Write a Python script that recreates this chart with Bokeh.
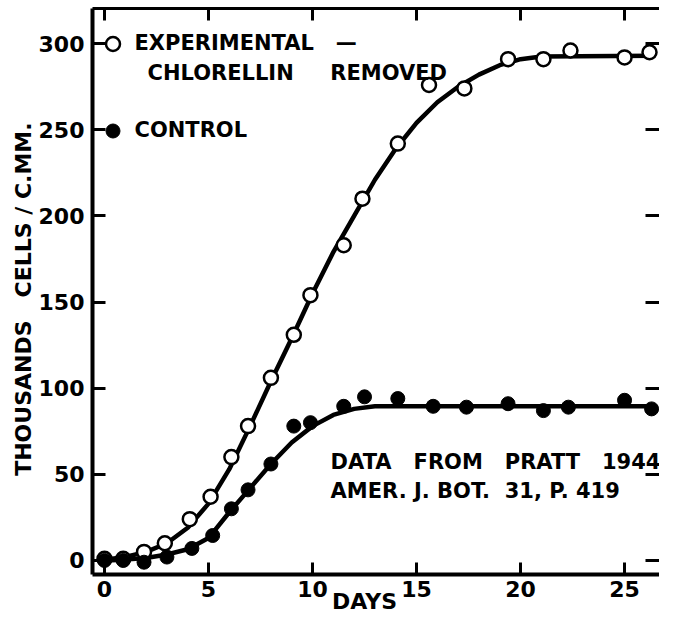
from bokeh.plotting import figure
from bokeh.models import LinearAxis, Label, Legend, LegendItem, FixedTicker, Range1d
from bokeh.embed import file_html
from bokeh.resources import INLINE

# ---- data ----
exp_days = [0, 0.9, 1.9, 2.9, 4.1, 5.1, 6.1, 6.9, 8.0, 9.1, 9.9, 11.5, 12.4, 14.1, 15.6, 17.3, 19.4, 21.1, 22.4, 25.0, 26.2]
exp_cells = [1, 1, 5, 10, 24, 37, 60, 78, 106, 131, 154, 183, 210, 242, 276, 274, 291, 291, 296, 292, 295]

ctl_days = [0, 0.9, 1.9, 3.0, 4.2, 5.2, 6.1, 6.9, 8.0, 9.1, 9.9, 11.5, 12.5, 14.1, 15.8, 17.4, 19.4, 21.1, 22.3, 25.0, 26.3]
ctl_cells = [0, 0, -1, 2, 7, 14.5, 30, 41, 56, 78, 80, 89.5, 95, 94, 89.5, 89, 91, 87, 89, 93, 88]

# fitted curves as drawn in the figure
exp_curve_days = [0, 1, 2, 3, 4, 5, 6, 7, 8, 9, 10, 11, 12, 13, 14, 15, 16, 17, 18, 19, 20, 21, 26.4]
exp_curve_cells = [0.5, 2, 5, 10, 19, 33, 53, 78, 104, 129, 155, 179, 200, 221, 239, 254, 266, 275, 282, 287.5, 291, 292.5, 293]

ctl_curve_days = [0, 1, 2, 3, 4, 5, 6, 7, 8, 9, 10, 11, 12, 13, 26.4]
ctl_curve_cells = [0, 0.5, 1.5, 3.5, 6.5, 13, 28, 42, 56, 68.5, 78, 84.5, 88, 89.5, 89.5]

x_ticks = [0, 5, 10, 15, 20, 25]
y_ticks = [0, 50, 100, 150, 200, 250, 300]

NB = "\u00a0"
FONT = "DejaVu Sans"
TXT = "21px"

p = figure(width=659, height=617, output_backend="svg", toolbar_location=None,
           x_range=Range1d(-0.577, 26.68), y_range=Range1d(-8.13, 320.4),
           min_border_left=92, min_border_right=0, min_border_top=8, min_border_bottom=43,
           background_fill_color="white", border_fill_color="white")
p.outline_line_color = None
p.xgrid.visible = False
p.ygrid.visible = False

# bottom axis
xa = p.xaxis[0]
xa.ticker = FixedTicker(ticks=x_ticks)
xa.major_tick_in = 12
xa.major_tick_out = 0
xa.minor_tick_line_color = None
xa.major_tick_line_width = 3
xa.axis_line_width = 4
xa.major_label_text_font = FONT
xa.major_label_text_font_style = "bold"
xa.major_label_text_font_size = "22px"
xa.major_label_text_color = "black"
xa.major_label_standoff = 6
xa.axis_label = "DAYS" + NB * 3
xa.axis_label_text_font = FONT
xa.axis_label_text_font_style = "bold"
xa.axis_label_text_font_size = "22px"
xa.axis_label_text_color = "black"
xa.axis_label_standoff = -11

# left axis
ya = p.yaxis[0]
ya.ticker = FixedTicker(ticks=y_ticks)
ya.major_tick_in = 13
ya.major_tick_out = 0
ya.minor_tick_line_color = None
ya.major_tick_line_width = 3
ya.axis_line_width = 4
ya.major_label_text_font = FONT
ya.major_label_text_font_style = "bold"
ya.major_label_text_font_size = "22px"
ya.major_label_text_color = "black"
ya.major_label_standoff = 8
ya.axis_label = "THOUSANDS" + NB * 3 + "CELLS" + NB + "/" + NB + "C.MM." + NB * 2
ya.axis_label_text_font = FONT
ya.axis_label_text_font_style = "bold"
ya.axis_label_text_font_size = "22px"
ya.axis_label_text_color = "black"
ya.axis_label_standoff = 0

# top axis (ticks only)
ta = LinearAxis(ticker=FixedTicker(ticks=x_ticks), major_tick_in=12, major_tick_out=0,
                minor_tick_line_color=None, major_tick_line_width=3, axis_line_width=3,
                major_label_text_font_size="1px", major_label_text_color=None,
                major_label_standoff=0)
p.add_layout(ta, "above")

# right axis (ticks only)
ra = LinearAxis(ticker=FixedTicker(ticks=y_ticks), major_tick_in=14, major_tick_out=0,
                minor_tick_line_color=None, major_tick_line_width=3, axis_line_color=None,
                major_label_text_font_size="1px", major_label_text_color=None,
                major_label_standoff=0)
p.add_layout(ra, "right")

# curves
p.line(exp_curve_days, exp_curve_cells, line_color="black", line_width=4.5, line_join="round", line_cap="round")
p.line(ctl_curve_days, ctl_curve_cells, line_color="black", line_width=4.5, line_join="round", line_cap="round")

# points
r_exp = p.scatter(exp_days, exp_cells, marker="circle", size=14, fill_color="white",
                  line_color="black", line_width=2.5)
r_ctl = p.scatter(ctl_days, ctl_cells, marker="circle", size=14, fill_color="black",
                  line_color="black", line_width=1)

legend = Legend(items=[LegendItem(label="EXPERIMENTAL" + NB * 3 + "\u2014", renderers=[r_exp]),
                       LegendItem(label="CONTROL", renderers=[r_ctl])],
                location=(2.5, 426.5), orientation="vertical",
                glyph_width=35, glyph_height=35, spacing=52, padding=0, margin=0,
                label_standoff=5, border_line_color=None, background_fill_alpha=0,
                label_text_font=FONT, label_text_font_style="bold", label_text_font_size=TXT,
                label_text_color="black")
p.add_layout(legend, "center")

def lab(text, x, y, size=TXT, align="left"):
    p.add_layout(Label(x=x, y=y, text=text, text_font=FONT, text_font_style="bold",
                       text_font_size=size, text_align=align, text_baseline="middle",
                       text_color="black"))

lab("CHLORELLIN" + NB * 5 + "REMOVED", 2.07, 283.2)
lab((NB * 3).join(["DATA", "FROM", "PRATT", "1944"]), 10.87, 56.9)
lab("AMER." + NB + "J." + NB + "BOT." + NB * 2 + "31," + NB + "P." + NB + "419", 10.87, 40.6)

open("out.html", "w").write(file_html(p, INLINE))
